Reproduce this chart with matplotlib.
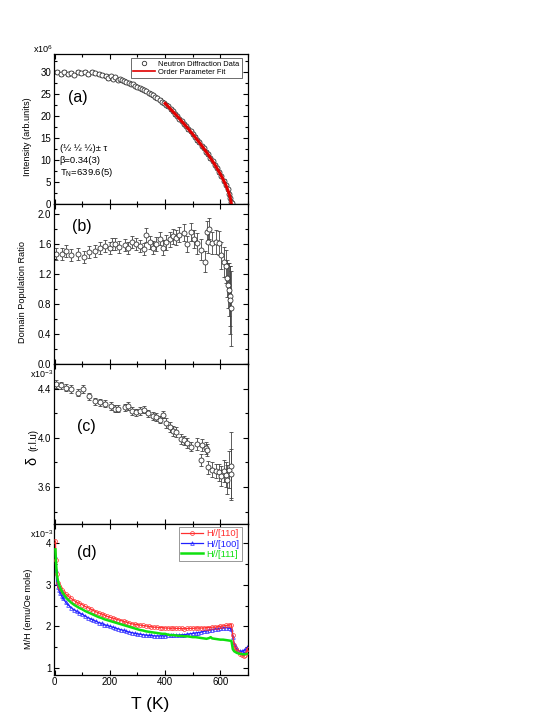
import numpy as np
import matplotlib
matplotlib.use("Agg")
import matplotlib.pyplot as plt
from matplotlib.ticker import MultipleLocator
from matplotlib.lines import Line2D

plt.rcParams['font.family'] = ['Liberation Sans', 'DejaVu Sans']
plt.rcParams['mathtext.default'] = 'regular'

# ---------------- data ----------------
# (a) Intensity (x10^6)
T_a = [8, 22, 35, 48, 60, 72, 85, 97, 110, 122, 135, 148, 160, 172, 185, 195, 205, 212,
       220, 228, 236, 244, 252, 260, 268, 276, 284, 292, 300, 308, 316, 324, 332, 340,
       348, 356, 364, 372, 380, 388, 396, 404, 412, 420, 428, 436, 444, 452, 460, 468,
       476, 484, 492, 500, 508, 516, 524, 532, 540, 548, 556, 564, 572, 580, 588, 596,
       604, 612, 620, 626, 632, 636, 640, 643]
I_a = [29.8, 29.5, 29.9, 29.4, 29.7, 29.3, 29.8, 29.6, 29.9, 29.5, 29.8, 29.6, 29.4, 29.2,
       29.0, 28.6, 28.9, 28.4, 28.7, 28.2, 28.3, 28.0, 27.9, 27.6, 27.5, 27.2, 27.1, 26.8,
       26.6, 26.3, 26.0, 25.8, 25.5, 25.2, 24.9, 24.6, 24.2, 23.9, 23.6, 23.2, 22.9, 22.5,
       22.1, 21.4, 21.0, 20.3, 19.9, 19.2, 18.8, 18.1, 17.6, 16.9, 16.4, 15.7, 15.2, 14.4,
       13.9, 13.1, 12.6, 11.8, 11.2, 10.3, 9.7, 8.8, 8.1, 7.1, 6.3, 5.2, 4.2, 3.2, 2.2,
       1.3, 0.3, 0.1]
E_a = [0.45, 0.4, 0.45, 0.4, 0.45, 0.4, 0.45, 0.4, 0.45, 0.4, 0.45, 0.4, 0.4, 0.4, 0.4,
       0.4, 0.35, 0.35, 0.35, 0.35, 0.35, 0.35, 0.35, 0.35, 0.3, 0.3, 0.3, 0.3, 0.3, 0.3,
       0.3, 0.3, 0.3, 0.3, 0.3, 0.3, 0.3, 0.3, 0.3, 0.3, 0.3, 0.3, 0.3, 0.3, 0.3, 0.3,
       0.3, 0.3, 0.3, 0.3, 0.3, 0.3, 0.3, 0.3, 0.3, 0.3, 0.3, 0.3, 0.3, 0.3, 0.3, 0.3,
       0.3, 0.3, 0.3, 0.3, 0.3, 0.3, 0.3, 0.3, 0.3, 0.3, 0.3, 0.3]
T_fit = [400, 420, 440, 460, 480, 500, 520, 540, 560, 580, 600, 610, 620, 630, 636, 639.6]
I_fit = [22.77, 21.46, 20.11, 18.72, 17.27, 15.77, 14.20, 12.53, 10.77, 8.84, 6.70, 5.49,
         4.15, 2.55, 1.31, 0.0]

# (b) Domain population ratio
T_b = [6, 26, 41, 60, 86, 105, 126, 146, 164, 183, 200, 208, 218, 233, 254, 266, 281, 296,
       308, 322, 332, 344, 356, 368, 380, 392, 404, 416, 428, 440, 452, 470, 481, 493, 505,
       514, 529, 543, 551, 555, 559, 571, 583, 595, 601, 613, 621, 625, 628, 631, 634, 636, 640]
R_b = [1.47, 1.47, 1.51, 1.45, 1.46, 1.42, 1.49, 1.51, 1.55, 1.57, 1.54, 1.60, 1.60, 1.56,
       1.58, 1.55, 1.63, 1.60, 1.57, 1.53, 1.72, 1.62, 1.55, 1.60, 1.67, 1.55, 1.62, 1.66,
       1.70, 1.68, 1.72, 1.75, 1.60, 1.76, 1.66, 1.61, 1.52, 1.36, 1.76, 1.63, 1.80, 1.61,
       1.63, 1.61, 1.45, 1.36, 1.30, 1.14, 1.05, 0.99, 0.90, 0.85, 0.74]
E_b = [0.08, 0.08, 0.08, 0.08, 0.08, 0.08, 0.08, 0.08, 0.08, 0.08, 0.08, 0.08, 0.08, 0.08,
       0.08, 0.08, 0.08, 0.08, 0.08, 0.08, 0.09, 0.09, 0.09, 0.09, 0.09, 0.10, 0.10, 0.10,
       0.10, 0.10, 0.10, 0.11, 0.11, 0.12, 0.12, 0.14, 0.14, 0.14, 0.15, 0.15, 0.14, 0.15,
       0.16, 0.16, 0.18, 0.20, 0.22, 0.25, 0.30, 0.35, 0.40, 0.45, 0.50]

# (c) delta (x10^-3)
T_c = [6, 24, 41, 60, 83, 104, 126, 146, 164, 183, 204, 218, 230, 254, 266, 281, 296, 308,
       322, 338, 356, 368, 380, 392, 404, 416, 428, 440, 457, 469, 481, 493, 517, 529, 535,
       547, 553, 556, 571, 583, 595, 601, 613, 619, 625, 631, 637, 640]
D_c = [4.44, 4.43, 4.41, 4.40, 4.37, 4.40, 4.34, 4.30, 4.29, 4.28, 4.26, 4.24, 4.24, 4.25,
       4.26, 4.22, 4.21, 4.22, 4.23, 4.20, 4.18, 4.17, 4.15, 4.19, 4.12, 4.09, 4.06, 4.05,
       3.99, 3.98, 3.96, 3.93, 3.95, 3.82, 3.94, 3.92, 3.90, 3.76, 3.74, 3.73, 3.72, 3.69,
       3.73, 3.70, 3.66, 3.74, 3.71, 3.77]
E_c = [0.03, 0.03, 0.03, 0.03, 0.03, 0.03, 0.03, 0.03, 0.03, 0.03, 0.03, 0.03, 0.03, 0.03,
       0.03, 0.03, 0.03, 0.03, 0.03, 0.03, 0.03, 0.03, 0.03, 0.03, 0.04, 0.04, 0.04, 0.04,
       0.04, 0.04, 0.04, 0.04, 0.05, 0.05, 0.05, 0.05, 0.05, 0.05, 0.06, 0.06, 0.07, 0.08,
       0.09, 0.10, 0.12, 0.15, 0.20, 0.28]

# (d) M/H (x10^-3)
T_110 = [3, 5, 8, 12, 16, 20, 25, 30, 40, 50, 60, 70, 80, 90, 100, 110, 120, 130, 140, 150,
         160, 170, 180, 190, 200, 210, 220, 230, 240, 250, 260, 270, 280, 290, 300, 310, 320,
         330, 340, 350, 360, 370, 380, 390, 400, 410, 420, 430, 440, 450, 460, 470, 480, 490,
         500, 510, 520, 530, 540, 550, 560, 570, 580, 590, 600, 610, 620, 630, 640, 645, 650,
         655, 660, 670, 680, 685, 690, 695, 700]
M_110 = [4.05, 3.60, 3.25, 3.05, 2.98, 2.92, 2.87, 2.83, 2.78, 2.72, 2.67, 2.62, 2.58, 2.55,
         2.52, 2.48, 2.45, 2.42, 2.38, 2.35, 2.32, 2.30, 2.27, 2.24, 2.22, 2.20, 2.18, 2.16,
         2.14, 2.12, 2.10, 2.08, 2.06, 2.05, 2.04, 2.03, 2.02, 2.01, 2.00, 1.99, 1.98, 1.98,
         1.97, 1.97, 1.96, 1.96, 1.95, 1.96, 1.95, 1.95, 1.95, 1.94, 1.95, 1.95, 1.95, 1.96,
         1.96, 1.96, 1.96, 1.97, 1.97, 1.98, 1.98, 1.99, 2.00, 2.01, 2.02, 2.03, 2.04, 1.80,
         1.55, 1.46, 1.40, 1.34, 1.30, 1.29, 1.32, 1.38, 1.46]
T_100 = T_110
M_100 = [3.70, 3.35, 3.05, 2.95, 2.88, 2.80, 2.74, 2.68, 2.58, 2.51, 2.45, 2.40, 2.36, 2.32,
         2.29, 2.25, 2.21, 2.18, 2.15, 2.12, 2.09, 2.07, 2.04, 2.02, 2.00, 1.98, 1.96, 1.94,
         1.92, 1.90, 1.88, 1.86, 1.85, 1.83, 1.82, 1.81, 1.80, 1.79, 1.78, 1.78, 1.77, 1.77,
         1.77, 1.77, 1.77, 1.78, 1.78, 1.78, 1.79, 1.79, 1.80, 1.80, 1.81, 1.82, 1.83, 1.84,
         1.85, 1.86, 1.88, 1.89, 1.91, 1.92, 1.93, 1.94, 1.95, 1.96, 1.97, 1.96, 1.94, 1.75,
         1.58, 1.50, 1.44, 1.40, 1.40, 1.42, 1.44, 1.48, 1.52]
T_111 = [3, 5, 8, 12, 16, 20, 25, 30, 40, 50, 60, 70, 80, 90, 100, 110, 120, 130, 140, 150,
         160, 170, 180, 190, 200, 210, 220, 230, 240, 250, 260, 270, 280, 290, 300, 310, 320,
         330, 340, 350, 360, 370, 380, 390, 400, 410, 420, 430, 440, 450, 460, 470, 480, 490,
         500, 510, 520, 530, 540, 550, 560, 565, 570, 580, 590, 600, 610, 620, 630, 640, 645,
         650, 660, 670, 680, 690, 700]
M_111 = [3.85, 3.55, 3.25, 3.10, 3.00, 2.93, 2.86, 2.80, 2.70, 2.63, 2.57, 2.52, 2.48, 2.44,
         2.41, 2.37, 2.34, 2.31, 2.28, 2.25, 2.22, 2.20, 2.17, 2.15, 2.13, 2.11, 2.09, 2.07,
         2.05, 2.03, 2.01, 1.99, 1.97, 1.95, 1.93, 1.91, 1.90, 1.88, 1.87, 1.86, 1.85, 1.84,
         1.83, 1.82, 1.82, 1.80, 1.79, 1.79, 1.78, 1.77, 1.77, 1.76, 1.76, 1.75, 1.74, 1.74,
         1.73, 1.72, 1.71, 1.70, 1.72, 1.74, 1.71, 1.70, 1.69, 1.68, 1.68, 1.67, 1.66, 1.65,
         1.45, 1.40, 1.36, 1.34, 1.33, 1.33, 1.34]

# ---------------- figure ----------------
W, H = 553, 715
fig = plt.figure(figsize=(W / 100, H / 100), dpi=100)

def px_axes(left, top, right, bottom):
    return fig.add_axes([left / W, 1 - bottom / H, (right - left) / W, (bottom - top) / H])

L, R = 53.5, 248
axa = px_axes(L, 54, R, 204)
axb = px_axes(L, 204, R, 364)
axc = px_axes(L, 364, R, 524)
axd = px_axes(L, 524, R, 675)

TICK_FS = 7
for ax in (axa, axb, axc, axd):
    ax.set_xlim(-4, 700)
    ax.xaxis.set_major_locator(MultipleLocator(200))
    ax.xaxis.set_minor_locator(MultipleLocator(100))
    ax.tick_params(which='both', direction='in', top=True, right=True, labelsize=TICK_FS,
                   width=0.8, pad=1.5)
    ax.tick_params(which='major', length=3.5)
    ax.tick_params(which='minor', length=2)
    for s in ax.spines.values():
        s.set_linewidth(0.9)
    if ax is not axd:
        ax.tick_params(labelbottom=False)

eb_kw = dict(fmt='o', ms=3.6, mfc='white', mec='#333333', mew=0.6, ecolor='#444444',
             elinewidth=0.6, capsize=1.4, capthick=0.6)

# (a)
axa.errorbar(T_a, I_a, yerr=E_a, zorder=2, **eb_kw)
axa.plot(T_fit, I_fit, color='#e00000', lw=2.2, zorder=3)
axa.set_ylim(-0.1, 34)
axa.yaxis.set_major_locator(MultipleLocator(5))
axa.yaxis.set_minor_locator(MultipleLocator(2.5))
axa.set_ylabel('Intensity (arb.units)', fontsize=6.6)
axa.yaxis.set_label_coords(-0.112, 0.447)
axa.text(0.0, 1.03, r'x10$^{6}$', transform=axa.transAxes, ha='right', va='center',
         fontsize=6.6)
axa.text(0.126, 0.707, '(a)', transform=axa.transAxes, ha='center', va='center', fontsize=11.5)
axa.text(0.031, 0.373, '(\u00bd \u00bd \u00bd)\u00b1 \u03c4', transform=axa.transAxes,
         ha='left', va='center', fontsize=6.8)
axa.text(0.031, 0.293, '\u03b2=0.34(3)', transform=axa.transAxes, ha='left', va='center',
         fontsize=6.8)
axa.text(0.031, 0.213, r'T$_{N}$=639.6(5)', transform=axa.transAxes, ha='left', va='center',
         fontsize=6.8)
h1 = Line2D([], [], ls='none', marker='o', ms=3.2, mfc='white', mec='#333333', mew=0.6)
h2 = Line2D([], [], color='#e00000', lw=1.2)
leg = axa.legend([h1, h2], ['Neutron Diffraction Data', 'Order Parameter Fit'],
                 loc='upper right', bbox_to_anchor=(0.969, 0.973), borderaxespad=0,
                 fontsize=5.4, frameon=True, fancybox=False, framealpha=1, edgecolor='#555555',
                 handlelength=3.0, handletextpad=0.4, borderpad=0.3, labelspacing=0.15)
leg.get_frame().set_linewidth(0.6)

# (b)
axb.errorbar(T_b, R_b, yerr=E_b, zorder=2, **eb_kw)
axb.set_ylim(0, 2.133)
axb.yaxis.set_major_locator(MultipleLocator(0.4))
axb.yaxis.set_minor_locator(MultipleLocator(0.2))
axb.yaxis.set_major_formatter(matplotlib.ticker.FormatStrFormatter('%.1f'))
axb.set_ylabel('Domain Population Ratio', fontsize=6.6)
axb.yaxis.set_label_coords(-0.138, 0.452)
axb.text(0.147, 0.8625, '(b)', transform=axb.transAxes, ha='center', va='center', fontsize=11.5)

# (c)
axc.errorbar(T_c, D_c, yerr=E_c, zorder=2, **eb_kw)
axc.set_ylim(3.298, 4.604)
axc.yaxis.set_major_locator(MultipleLocator(0.4))
axc.yaxis.set_minor_locator(MultipleLocator(0.2))
axc.yaxis.set_major_formatter(matplotlib.ticker.FormatStrFormatter('%.1f'))
axc.text(-0.108, 0.395, '\u03b4', transform=axc.transAxes, rotation=90, ha='center',
         va='center', fontsize=10.5)
axc.text(-0.105, 0.525, '(r.l.u)', transform=axc.transAxes, rotation=90, ha='center',
         va='center', fontsize=7)
axc.text(0.0, 0.935, r'x10$^{-3}$', transform=axc.transAxes, ha='right', va='center',
         fontsize=6.4)
axc.text(0.167, 0.6125, '(c)', transform=axc.transAxes, ha='center', va='center', fontsize=11.5)

# (d)
axd.plot(T_110, M_110, color='#ff3030', lw=0.9, marker='o', ms=2.8, mfc='none', mew=0.5,
         label='H//[110]', zorder=3)
axd.plot(T_100, M_100, color='#2020ff', lw=0.9, marker='^', ms=2.6, mfc='none', mew=0.5,
         label='H//[100]', zorder=2)
axd.plot(T_111, M_111, color='#10e010', lw=1.8, label='H//[111]', zorder=4)
axd.set_ylim(0.83, 4.46)
axd.yaxis.set_major_locator(MultipleLocator(1))
axd.yaxis.set_minor_locator(MultipleLocator(0.5))
axd.set_ylabel('M/H (emu/Oe mole)', fontsize=6.6)
axd.yaxis.set_label_coords(-0.104, 0.437)
axd.text(0.0, 0.935, r'x10$^{-3}$', transform=axd.transAxes, ha='right', va='center',
         fontsize=6.4)
axd.text(0.172, 0.808, '(d)', transform=axd.transAxes, ha='center', va='center', fontsize=11.5)
legd = axd.legend(loc='upper right', bbox_to_anchor=(0.969, 0.98), borderaxespad=0,
                  fontsize=6.8, frameon=True, fancybox=False, framealpha=1, edgecolor='#888888',
                  handlelength=2.3, handletextpad=0.4, borderpad=0.25, labelspacing=0.12,
                  markerscale=1.0)
legd.get_frame().set_linewidth(0.6)
for txt, line in zip(legd.get_texts(), legd.get_lines()):
    txt.set_color(line.get_color())

fig.text(150.5 / W, 1 - 704 / H, 'T (K)', ha='center', va='center', fontsize=12.5)

fig.savefig('out.png', dpi=100)
